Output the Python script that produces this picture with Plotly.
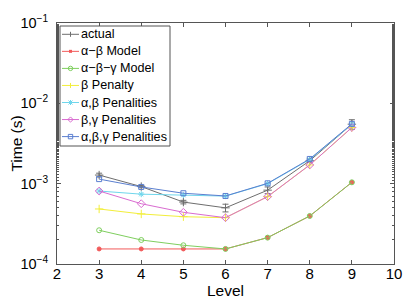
import plotly.graph_objects as go

levels = [3, 4, 5, 6, 7, 8, 9]
actual = [1.28e-3, 9.2e-4, 5.9e-4, 5.0e-4, 8.3e-4, 1.93e-3, 5.5e-3]
actual_err = [0.07e-3, 0.03e-3, 0.03e-3, 0.055e-3, 0.08e-3, 0.1e-3, 0.75e-3]
ab_model = [1.54e-4, 1.54e-4, 1.54e-4, 1.54e-4, 2.13e-4, 3.96e-4, 1.04e-3]
abg_model = [2.63e-4, 1.99e-4, 1.71e-4, 1.54e-4, 2.13e-4, 3.96e-4, 1.04e-3]
b_penalty = [4.84e-4, 4.2e-4, 3.88e-4, 3.77e-4, 6.9e-4, 1.71e-3, 5.0e-3]
ab_pen = [8.1e-4, 7.4e-4, 7.2e-4, 7.0e-4, 1.0e-3, 2.0e-3, 5.5e-3]
bg_pen = [8.1e-4, 5.63e-4, 4.4e-4, 3.77e-4, 6.9e-4, 1.71e-3, 5.0e-3]
abg_pen = [1.14e-3, 9.1e-4, 7.6e-4, 7.03e-4, 1.01e-3, 2.03e-3, 5.55e-3]

names = ["actual", "α−β Model", "α−β−γ Model", "β Penalty",
         "α,β Penalities", "β,γ Penalities", "α,β,γ Penalities"]
series = [actual, ab_model, abg_model, b_penalty, ab_pen, bg_pen, abg_pen]
colors = ["#6e6e6e", "#f25a5a", "#7fcf5f", "#f2ee3a", "#6fd6ec", "#d96bd0", "#5b7fd0"]
symbols = ["cross-thin-open", "circle", "circle-open", "cross-thin-open",
           "asterisk-open", "diamond-open", "square-open"]
legend_kinds = ["plus", "dot", "circle", "plus", "star", "diamond", "square"]
sizes = [6, 4, 5, 6, 5, 6, 5]

ytickvals = [1e-4, 1e-3, 1e-2, 1e-1]
yticktext = ["10<sup>−4</sup>", "10<sup>−3</sup>", "10<sup>−2</sup>", "10<sup>−1</sup>"]
xtickvals = [2, 3, 4, 5, 6, 7, 8, 9, 10]

fig = go.Figure()
for i, (nm, ys) in enumerate(zip(names, series)):
    kw = {}
    if i == 0:
        kw["error_y"] = dict(type="data", array=actual_err, visible=True,
                             color=colors[0], thickness=1, width=3)
    fig.add_trace(go.Scatter(
        x=levels, y=ys, name=nm, mode="lines+markers", showlegend=False,
        line=dict(color=colors[i], width=1),
        marker=dict(symbol=symbols[i], size=sizes[i], color=colors[i],
                    line=dict(color=colors[i], width=1)),
        **kw))

# The page body has an 8px default margin, so the figure is sized/placed
# to land where the reference puts it in the 415x300 window.
OFF = 8
W, H = 415 - OFF, 300 - OFF
ML, MR, MT, MB = 57 - OFF, 21, 23 - OFF, 36
PW, PH = W - ML - MR, H - MT - MB


def px(p):  # screen pixel x -> paper
    return (p - OFF - ML) / PW


def py(p):  # screen pixel y -> paper
    return (H - MB - (p - OFF)) / PH


shapes = []
annotations = []
shapes.append(dict(type="rect", xref="paper", yref="paper",
                   x0=px(60), x1=px(170), y0=py(146), y1=py(26),
                   line=dict(color="#555", width=1), fillcolor="white",
                   layer="above"))
row0, rowstep = 34.3, 17.05
for i, nm in enumerate(names):
    cy = row0 + rowstep * i
    c = colors[i]
    shapes.append(dict(type="line", xref="paper", yref="paper",
                       x0=px(62), x1=px(79), y0=py(cy), y1=py(cy),
                       line=dict(color=c, width=1), layer="above"))
    cx = 70.5
    r = 2.2
    k = legend_kinds[i]
    if k == "plus":
        shapes.append(dict(type="line", xref="paper", yref="paper",
                           x0=px(cx), x1=px(cx), y0=py(cy - 2.5), y1=py(cy + 2.5),
                           line=dict(color=c, width=1), layer="above"))
    elif k == "dot":
        shapes.append(dict(type="rect", xref="paper", yref="paper",
                           x0=px(cx - 1.5), x1=px(cx + 1.5), y0=py(cy + 1.5), y1=py(cy - 1.5),
                           line=dict(color=c, width=0), fillcolor=c, layer="above"))
    elif k == "circle":
        shapes.append(dict(type="circle", xref="paper", yref="paper",
                           x0=px(cx - r), x1=px(cx + r), y0=py(cy + r), y1=py(cy - r),
                           line=dict(color=c, width=1), layer="above"))
    elif k == "square":
        shapes.append(dict(type="rect", xref="paper", yref="paper",
                           x0=px(cx - r), x1=px(cx + r), y0=py(cy + r), y1=py(cy - r),
                           line=dict(color=c, width=1), layer="above"))
    elif k == "diamond":
        path = "M {a},{b} L {c},{d} L {e},{f} L {g},{h} Z".format(
            a=px(cx - 2.6), b=py(cy), c=px(cx), d=py(cy - 2.6),
            e=px(cx + 2.6), f=py(cy), g=px(cx), h=py(cy + 2.6))
        shapes.append(dict(type="path", xref="paper", yref="paper", path=path,
                           line=dict(color=c, width=1), layer="above"))
    elif k == "star":
        for dx, dy in [(2, 2), (2, -2), (0, 2.5)]:
            shapes.append(dict(type="line", xref="paper", yref="paper",
                               x0=px(cx - dx), x1=px(cx + dx), y0=py(cy - dy), y1=py(cy + dy),
                               line=dict(color=c, width=1), layer="above"))
    annotations.append(dict(xref="paper", yref="paper", x=px(80), y=py(cy),
                            xanchor="left", yanchor="middle", showarrow=False,
                            text=nm, font=dict(size=12.6, color="black"),
                            borderpad=0))

font = "Liberation Sans, Arial, Helvetica, sans-serif"
fig.update_layout(
    width=W, height=H,
    margin=dict(l=ML, r=MR, t=MT, b=MB, autoexpand=False),
    paper_bgcolor="white", plot_bgcolor="white",
    font=dict(family=font, color="black", size=14),
    showlegend=False,
    shapes=shapes, annotations=annotations,
    xaxis=dict(range=[2, 10], tickvals=xtickvals, ticks="inside", ticklen=4,
               tickcolor="#555", automargin=False,
               showline=True, linecolor="#555", linewidth=1, mirror="allticks",
               showgrid=False, zeroline=False, tickfont=dict(size=15),
               ticklabelstandoff=-4,
               title=dict(text="Level", font=dict(size=15.5), standoff=0)),
    yaxis=dict(type="log", range=[-4, -1], tickvals=ytickvals, ticktext=yticktext,
               ticks="inside", ticklen=4, tickcolor="#555", showline=True,
               automargin=False,
               linecolor="#555", linewidth=1, mirror="allticks", showgrid=False,
               zeroline=False, tickfont=dict(size=14.5), ticklabelstandoff=5,
               minor=dict(ticks="inside", ticklen=2, showgrid=False,
                          tickcolor="#555"),
               title=dict(text="Time (s)", font=dict(size=15.5), standoff=10)),
)
fig.write_html("out.html")
